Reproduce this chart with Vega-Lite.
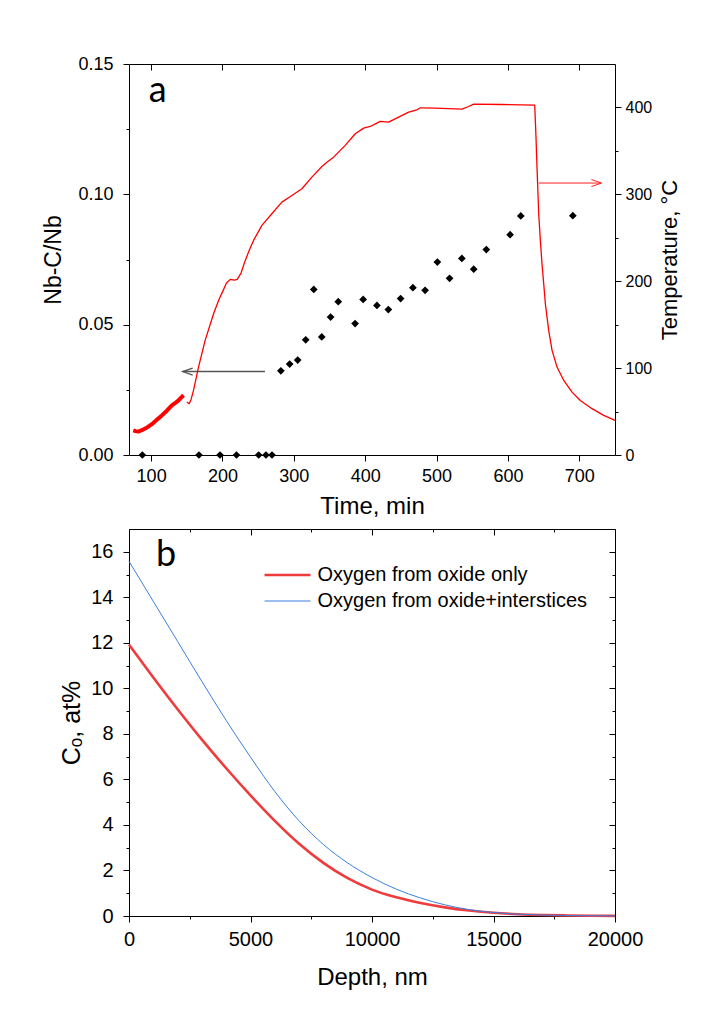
{
  "$schema": "https://vega.github.io/schema/vega-lite/v6.json",
  "background": "white",
  "padding": {"left": 42, "top": 55, "right": 5, "bottom": 5},
  "spacing": 10,
  "resolve": {
    "scale": {"strokeWidth": "independent", "color": "independent"},
    "legend": {"strokeWidth": "independent", "color": "independent"}
  },
  "config": {
    "view": {"stroke": null},
    "axis": {
      "domainColor": "#000", "tickColor": "#000", "labelColor": "#000", "titleColor": "#000",
      "labelFont": "Liberation Sans", "titleFont": "Liberation Sans", "titleFontWeight": "normal",
      "grid": false, "domainWidth": 1, "tickWidth": 1, "labelFlush": false, "labelOverlap": false
    }
  },
  "datasets": {
    "nbc": [
      {"time": 87.7, "ratio": 0}, {"time": 167, "ratio": 0}, {"time": 196.5, "ratio": 0}, {"time": 219.6, "ratio": 0},
      {"time": 250.7, "ratio": 0}, {"time": 260.9, "ratio": 0}, {"time": 269.4, "ratio": 0},
      {"time": 281.8, "ratio": 0.0323}, {"time": 294.1, "ratio": 0.0349}, {"time": 305.4, "ratio": 0.0364},
      {"time": 316.6, "ratio": 0.0442}, {"time": 327.9, "ratio": 0.0635}, {"time": 339.1, "ratio": 0.0453},
      {"time": 351.5, "ratio": 0.0529}, {"time": 362.2, "ratio": 0.0588}, {"time": 385.8, "ratio": 0.0504},
      {"time": 397.1, "ratio": 0.0597}, {"time": 416.4, "ratio": 0.0574}, {"time": 432.4, "ratio": 0.0558},
      {"time": 449.6, "ratio": 0.06}, {"time": 466.8, "ratio": 0.0642}, {"time": 483.9, "ratio": 0.0632},
      {"time": 501.1, "ratio": 0.074}, {"time": 518.2, "ratio": 0.0678}, {"time": 535.4, "ratio": 0.0754},
      {"time": 552, "ratio": 0.0713}, {"time": 569.7, "ratio": 0.0788}, {"time": 603, "ratio": 0.0845},
      {"time": 618, "ratio": 0.0917}, {"time": 690.9, "ratio": 0.0918}
    ],
    "arrowA": [{"time": 259.5, "time_end": 144.2, "ratio": 0.032}],
    "arrowT": [{"time": 643, "time_end": 731, "temp": 313}],
    "temp": [
      {"time": 75, "temp": 28.3, "seg": "start"}, {"time": 78, "temp": 27.5, "seg": "start"}, {"time": 82, "temp": 27, "seg": "start"},
      {"time": 87, "temp": 28.5, "seg": "start"}, {"time": 93, "temp": 31, "seg": "start"}, {"time": 101, "temp": 35.5, "seg": "start"},
      {"time": 108, "temp": 40.5, "seg": "start"}, {"time": 115, "temp": 45.6, "seg": "start"}, {"time": 122, "temp": 51, "seg": "start"},
      {"time": 129, "temp": 57, "seg": "start"}, {"time": 134, "temp": 60, "seg": "start"}, {"time": 138.4, "temp": 62.8, "seg": "start"},
      {"time": 142, "temp": 66, "seg": "start"}, {"time": 145.4, "temp": 68.7, "seg": "start"},
      {"time": 150, "temp": 60.9, "seg": "main"}, {"time": 153.3, "temp": 59, "seg": "main"}, {"time": 156, "temp": 64, "seg": "main"},
      {"time": 159.4, "temp": 74.3, "seg": "main"}, {"time": 166.4, "temp": 101.2, "seg": "main"}, {"time": 175.7, "temp": 131.9, "seg": "main"},
      {"time": 187.5, "temp": 162.6, "seg": "main"}, {"time": 194.5, "temp": 177.9, "seg": "main"}, {"time": 200.3, "temp": 188.3, "seg": "main"},
      {"time": 205.6, "temp": 197.9, "seg": "main"}, {"time": 211, "temp": 202.1, "seg": "main"}, {"time": 216.4, "temp": 201.3, "seg": "main"},
      {"time": 220.6, "temp": 202.1, "seg": "main"}, {"time": 226, "temp": 209.4, "seg": "main"}, {"time": 231.4, "temp": 222.8, "seg": "main"},
      {"time": 237.8, "temp": 236.2, "seg": "main"}, {"time": 243.5, "temp": 247, "seg": "main"}, {"time": 255.2, "temp": 264.2, "seg": "main"},
      {"time": 269.2, "temp": 277.7, "seg": "main"}, {"time": 283.2, "temp": 291, "seg": "main"}, {"time": 297.3, "temp": 298.7, "seg": "main"},
      {"time": 311.3, "temp": 306.4, "seg": "main"}, {"time": 325.3, "temp": 319.8, "seg": "main"}, {"time": 339.3, "temp": 332.1, "seg": "main"},
      {"time": 346.3, "temp": 337, "seg": "main"}, {"time": 355.7, "temp": 342.8, "seg": "main"}, {"time": 372, "temp": 356.3, "seg": "main"},
      {"time": 386, "temp": 369.7, "seg": "main"}, {"time": 397.8, "temp": 376.2, "seg": "main"}, {"time": 407, "temp": 378.1, "seg": "main"},
      {"time": 416.4, "temp": 382, "seg": "main"}, {"time": 421, "temp": 383.9, "seg": "main"}, {"time": 432.8, "temp": 383.1, "seg": "main"},
      {"time": 446.8, "temp": 388.8, "seg": "main"}, {"time": 460.9, "temp": 394.6, "seg": "main"}, {"time": 472.5, "temp": 397.3, "seg": "main"},
      {"time": 477.2, "temp": 399.6, "seg": "main"}, {"time": 498.2, "temp": 399.2, "seg": "main"}, {"time": 535.6, "temp": 398, "seg": "main"},
      {"time": 545, "temp": 401.1, "seg": "main"}, {"time": 552, "temp": 403.8, "seg": "main"}, {"time": 591.7, "temp": 403.4, "seg": "main"},
      {"time": 637.5, "temp": 402.6, "seg": "main"}, {"time": 639.3, "temp": 365.8, "seg": "main"}, {"time": 640.7, "temp": 331.3, "seg": "main"},
      {"time": 643.1, "temp": 277.7, "seg": "main"}, {"time": 645.4, "temp": 247, "seg": "main"}, {"time": 647.7, "temp": 220.1, "seg": "main"},
      {"time": 650.1, "temp": 197.1, "seg": "main"}, {"time": 652.4, "temp": 174.1, "seg": "main"}, {"time": 657.1, "temp": 143.4, "seg": "main"},
      {"time": 661.8, "temp": 120.4, "seg": "main"}, {"time": 668.8, "temp": 101.2, "seg": "main"}, {"time": 678.2, "temp": 85.8, "seg": "main"},
      {"time": 689.8, "temp": 72.4, "seg": "main"}, {"time": 701.4, "temp": 62.8, "seg": "main"}, {"time": 717.8, "temp": 53.3, "seg": "main"},
      {"time": 734.2, "temp": 45.6, "seg": "main"}, {"time": 750, "temp": 39.8, "seg": "main"}
    ],
    "curves": [
      {"series": "Oxygen from oxide only", "depth": 0, "conc": 11.92},
      {"series": "Oxygen from oxide only", "depth": 1000, "conc": 10.48},
      {"series": "Oxygen from oxide only", "depth": 2000, "conc": 9.085},
      {"series": "Oxygen from oxide only", "depth": 3000, "conc": 7.75},
      {"series": "Oxygen from oxide only", "depth": 4000, "conc": 6.49},
      {"series": "Oxygen from oxide only", "depth": 5000, "conc": 5.3},
      {"series": "Oxygen from oxide only", "depth": 6000, "conc": 4.18},
      {"series": "Oxygen from oxide only", "depth": 7000, "conc": 3.175},
      {"series": "Oxygen from oxide only", "depth": 8000, "conc": 2.335},
      {"series": "Oxygen from oxide only", "depth": 9000, "conc": 1.66},
      {"series": "Oxygen from oxide only", "depth": 10000, "conc": 1.16},
      {"series": "Oxygen from oxide only", "depth": 11000, "conc": 0.82},
      {"series": "Oxygen from oxide only", "depth": 12000, "conc": 0.57},
      {"series": "Oxygen from oxide only", "depth": 13000, "conc": 0.38},
      {"series": "Oxygen from oxide only", "depth": 14000, "conc": 0.24},
      {"series": "Oxygen from oxide only", "depth": 15000, "conc": 0.14},
      {"series": "Oxygen from oxide only", "depth": 16000, "conc": 0.08},
      {"series": "Oxygen from oxide only", "depth": 17000, "conc": 0.045},
      {"series": "Oxygen from oxide only", "depth": 18000, "conc": 0.025},
      {"series": "Oxygen from oxide only", "depth": 19000, "conc": 0.012},
      {"series": "Oxygen from oxide only", "depth": 20000, "conc": 0.006},
      {"series": "Oxygen from oxide+interstices", "depth": 0, "conc": 15.58},
      {"series": "Oxygen from oxide+interstices", "depth": 1000, "conc": 13.82},
      {"series": "Oxygen from oxide+interstices", "depth": 2000, "conc": 12.06},
      {"series": "Oxygen from oxide+interstices", "depth": 3000, "conc": 10.3},
      {"series": "Oxygen from oxide+interstices", "depth": 4000, "conc": 8.59},
      {"series": "Oxygen from oxide+interstices", "depth": 5000, "conc": 6.98},
      {"series": "Oxygen from oxide+interstices", "depth": 6000, "conc": 5.47},
      {"series": "Oxygen from oxide+interstices", "depth": 7000, "conc": 4.18},
      {"series": "Oxygen from oxide+interstices", "depth": 8000, "conc": 3.14},
      {"series": "Oxygen from oxide+interstices", "depth": 9000, "conc": 2.33},
      {"series": "Oxygen from oxide+interstices", "depth": 10000, "conc": 1.69},
      {"series": "Oxygen from oxide+interstices", "depth": 11000, "conc": 1.18},
      {"series": "Oxygen from oxide+interstices", "depth": 12000, "conc": 0.79},
      {"series": "Oxygen from oxide+interstices", "depth": 13000, "conc": 0.49},
      {"series": "Oxygen from oxide+interstices", "depth": 14000, "conc": 0.28},
      {"series": "Oxygen from oxide+interstices", "depth": 15000, "conc": 0.15},
      {"series": "Oxygen from oxide+interstices", "depth": 16000, "conc": 0.08},
      {"series": "Oxygen from oxide+interstices", "depth": 17000, "conc": 0.04},
      {"series": "Oxygen from oxide+interstices", "depth": 18000, "conc": 0.02},
      {"series": "Oxygen from oxide+interstices", "depth": 19000, "conc": 0.01},
      {"series": "Oxygen from oxide+interstices", "depth": 20000, "conc": 0.005}
    ]
  },
  "vconcat": [
    {
      "width": 486,
      "height": 391,
      "layer": [
        {
          "layer": [
            {
              "data": {"name": "nbc"},
              "mark": {"type": "point", "shape": "diamond", "filled": true, "color": "#000", "size": 60, "opacity": 1},
              "encoding": {
                "x": {"field": "time", "type": "quantitative", "scale": {"domain": [69, 750], "nice": false, "zero": false},
                  "axis": {"title": "Time, min", "values": [100,150,200,250,300,350,400,450,500,550,600,650,700,750],
                    "tickSize": {"condition": {"test": "datum.value % 100 === 0", "value": 6}, "value": 3},
                    "labelExpr": "datum.value % 100 === 0 ? datum.label : ''",
                    "labelPadding": 6, "titlePadding": 9, "labelFontSize": 18, "titleFontSize": 24}},
                "y": {"field": "ratio", "type": "quantitative", "scale": {"domain": [0, 0.15], "nice": false},
                  "axis": {"title": "Nb-C/Nb", "values": [0,0.025,0.05,0.075,0.1,0.125,0.15],
                    "tickSize": {"condition": {"test": "round(datum.value*1000) % 50 === 0", "value": 6}, "value": 3},
                    "labelExpr": "round(datum.value*1000) % 50 === 0 ? format(datum.value, '.2f') : ''",
                    "labelPadding": 10, "titlePadding": 12, "labelFontSize": 18, "titleFontSize": 23}}
              }
            },
            {
              "data": {"name": "arrowA"},
              "mark": {"type": "rule", "color": "#555555", "strokeWidth": 1.5},
              "encoding": {
                "x": {"field": "time", "type": "quantitative", "title": "Time, min"},
                "x2": {"field": "time_end"},
                "y": {"field": "ratio", "type": "quantitative", "title": "Nb-C/Nb"}
              }
            },
            {
              "data": {"name": "arrowA"},
              "mark": {"type": "point", "shape": "M2,-0.7L0,0L2,0.7", "filled": false, "stroke": "#555555", "strokeWidth": 1.3, "size": 100, "opacity": 1},
              "encoding": {
                "x": {"field": "time_end", "type": "quantitative", "title": "Time, min"},
                "y": {"field": "ratio", "type": "quantitative", "title": "Nb-C/Nb"}
              }
            },
            {
              "data": {"values": [{"label": "a", "time": 109.2, "ratio": 0.1355}]},
              "mark": {"type": "text", "font": "Lato", "fontSize": 36, "align": "center", "baseline": "alphabetic", "color": "#000"},
              "encoding": {
                "x": {"field": "time", "type": "quantitative", "title": "Time, min"},
                "y": {"field": "ratio", "type": "quantitative", "title": "Nb-C/Nb"},
                "text": {"field": "label"}
              }
            }
          ]
        },
        {
          "layer": [
            {
              "data": {"name": "temp"},
              "mark": {"type": "line", "color": "#ff0000", "strokeJoin": "round"},
              "encoding": {
                "x": {"field": "time", "type": "quantitative", "scale": {"domain": [69, 750], "nice": false, "zero": false},
                  "axis": {"orient": "top", "title": null, "labels": false, "values": [100,150,200,250,300,350,400,450,500,550,600,650,700,750],
                    "tickSize": {"condition": {"test": "datum.value % 100 === 0", "value": -6}, "value": -3}}},
                "y": {"field": "temp", "type": "quantitative", "scale": {"domain": [0, 450], "nice": false},
                  "axis": {"orient": "right", "title": "Temperature, °C", "values": [0,50,100,150,200,250,300,350,400],
                    "tickSize": {"condition": {"test": "datum.value % 100 === 0", "value": 6}, "value": 3},
                    "labelExpr": "datum.value % 100 === 0 ? datum.label : ''",
                    "labelPadding": 4, "titlePadding": 8, "labelFontSize": 16, "titleFontSize": 22,
                    "titleAngle": 270, "titleBaseline": "top"}},
                "strokeWidth": {"field": "seg", "type": "nominal", "scale": {"domain": ["start", "main"], "range": [4, 1.3]}, "legend": null}
              }
            },
            {
              "data": {"name": "arrowT"},
              "mark": {"type": "rule", "color": "#ff2020", "strokeWidth": 1},
              "encoding": {
                "x": {"field": "time", "type": "quantitative"},
                "x2": {"field": "time_end"},
                "y": {"field": "temp", "type": "quantitative", "title": "Temperature, °C"}
              }
            },
            {
              "data": {"name": "arrowT"},
              "mark": {"type": "point", "shape": "M-2,-0.7L0,0L-2,0.7", "filled": false, "stroke": "#ff2020", "strokeWidth": 1, "size": 100, "opacity": 1},
              "encoding": {
                "x": {"field": "time_end", "type": "quantitative"},
                "y": {"field": "temp", "type": "quantitative", "title": "Temperature, °C"}
              }
            }
          ]
        }
      ],
      "resolve": {"scale": {"y": "independent"}, "axis": {"x": "independent", "y": "independent"}}
    },
    {
      "width": 486,
      "height": 387,
      "layer": [
        {
          "data": {"name": "curves"},
          "mark": {"type": "line", "interpolate": "monotone"},
          "encoding": {
            "x": {"field": "depth", "type": "quantitative", "scale": {"domain": [0, 20000], "nice": false},
              "axis": {"title": "Depth, nm", "values": [0,2500,5000,7500,10000,12500,15000,17500,20000], "format": "d",
                "tickSize": {"condition": {"test": "datum.value % 5000 === 0", "value": 6}, "value": 3},
                "labelExpr": "datum.value % 5000 === 0 ? datum.label : ''",
                "labelPadding": 7, "titlePadding": 16, "labelFontSize": 20, "titleFontSize": 24}},
            "y": {"field": "conc", "type": "quantitative", "scale": {"domain": [0, 17], "nice": false},
              "axis": {"title": "Cₒ, at%", "values": [0,1,2,3,4,5,6,7,8,9,10,11,12,13,14,15,16],
                "tickSize": {"condition": {"test": "datum.value % 2 === 0", "value": 6}, "value": 3},
                "labelExpr": "datum.value % 2 === 0 ? datum.label : ''",
                "labelPadding": 10, "titlePadding": 6, "labelFontSize": 20, "titleFontSize": 25}},
            "color": {"field": "series", "type": "nominal",
              "scale": {"domain": ["Oxygen from oxide only", "Oxygen from oxide+interstices"], "range": ["#ef3b3b", "#3b7fe0"]},
              "legend": {"orient": "none", "legendX": 148.5, "legendY": 36, "title": null, "labelFontSize": 20, "labelFont": "Liberation Sans",
                "labelColor": "#000", "labelLimit": 0, "symbolType": "M-4,0L4,0", "symbolSize": 132, "labelOffset": 20, "rowPadding": 6, "padding": 0}},
            "strokeWidth": {"field": "series", "type": "nominal",
              "scale": {"domain": ["Oxygen from oxide only", "Oxygen from oxide+interstices"], "range": [2.6, 1]},
              "legend": {"orient": "none", "legendX": 148.5, "legendY": 36, "title": null, "labelFontSize": 20, "labelFont": "Liberation Sans",
                "labelColor": "#000", "labelLimit": 0, "symbolType": "M-4,0L4,0", "symbolSize": 132, "labelOffset": 20, "rowPadding": 6, "padding": 0}}
          }
        },
        {
          "data": {"values": [{"label": "b", "depth": 1528, "conc": 15.38}]},
          "mark": {"type": "text", "font": "Lato", "fontSize": 36, "align": "center", "baseline": "alphabetic", "color": "#000"},
          "encoding": {
            "x": {"field": "depth", "type": "quantitative", "scale": {"domain": [0, 20000], "nice": false},
              "axis": {"orient": "top", "title": null, "labels": false, "values": [0,2500,5000,7500,10000,12500,15000,17500,20000],
                "tickSize": {"condition": {"test": "datum.value % 5000 === 0", "value": -6}, "value": -3}}},
            "y": {"field": "conc", "type": "quantitative", "scale": {"domain": [0, 17], "nice": false},
              "axis": {"orient": "right", "title": null, "labels": false, "values": [0,1,2,3,4,5,6,7,8,9,10,11,12,13,14,15,16],
                "tickSize": {"condition": {"test": "datum.value % 2 === 0", "value": -6}, "value": -3}}},
            "text": {"field": "label"}
          }
        }
      ],
      "resolve": {"axis": {"x": "independent", "y": "independent"}}
    }
  ]
}
